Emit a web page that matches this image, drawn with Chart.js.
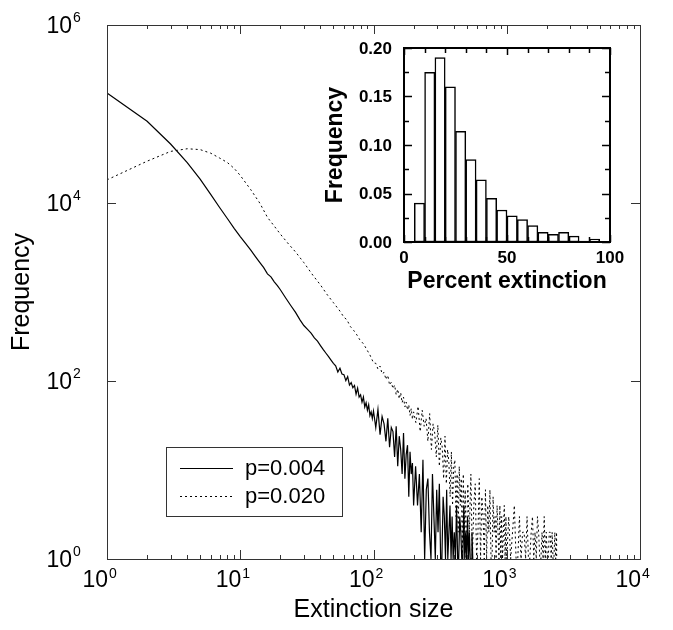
<!DOCTYPE html>
<html>
<head>
<meta charset="utf-8">
<script src="https://cdn.jsdelivr.net/npm/chart.js@4.4.1/dist/chart.umd.min.js"></script>
<style>
  body { margin: 0; background: #fff; }
  #wrap { position: relative; width: 673px; height: 630px; }
  #main { position: absolute; left: 0; top: 0; }
  #inset { position: absolute; left: 320px; top: 40px; }
</style>
</head>
<body>
<div id="wrap">
  <canvas id="main" width="673" height="630"></canvas>
  <canvas id="inset" width="325" height="260"></canvas>
</div>
<script>
// values
const seriesLabels = ['p=0.004', 'p=0.020'];

const sizesA = [1, 2, 3, 4, 5, 6, 7, 8, 9, 10, 11, 12, 13, 14, 15, 16, 17, 18, 19, 20,
  22, 24, 26, 28, 30, 32, 34, 36, 38, 40, 42, 44, 46, 48, 50,
  52, 54, 56, 58, 60, 62, 64, 66, 68, 70, 72, 74, 76, 78, 80, 82, 84, 86, 88, 90, 92, 94, 96, 98, 100,
  104, 108, 112, 116, 120, 124, 128, 132, 136, 140, 144, 148, 152, 156, 160, 164, 168, 172, 176, 180, 184, 188, 192, 196, 200,
  207, 214, 221, 228, 235, 242, 249, 256, 263, 270, 277, 284, 291, 298, 305, 312, 319, 326, 333, 340, 347, 354, 361, 368, 375, 382, 389, 396,
  404, 412, 420, 428, 436, 444, 452, 460, 468, 476, 484, 492, 500, 508, 516, 524, 532, 540, 548, 556];
const countsA = [172000, 83000, 46000, 28500, 18500, 12500, 8900, 6700, 5200, 4200, 3500, 2950, 2500, 2150, 1880, 1600, 1480, 1300, 1180, 1060,
  850, 700, 590, 490, 420, 380, 345, 305, 280, 250, 225, 205, 188, 172, 158,
  148, 126, 139, 120, 118, 101, 112, 90, 96, 84, 89, 71, 83, 66, 70, 58, 66, 51, 57, 47, 54, 41, 45, 38, 46,
  30, 48, 25, 40, 33, 21, 38, 18, 30, 27, 14, 31, 11, 24, 17, 9, 26, 8, 15, 19, 5, 16, 9, 12, 4,
  11, 4, 9, 2, 13, 1, 6, 8, 2, 1, 9, 3, 1, 6, 2, 7, 1, 1, 5, 3, 1, 6, 1, 2, 4, 1, 3, 1,
  2, 1, 4, 1, 1, 3, 2, 1, 1, 4, 1, 2, 1, 3, 1, 2, 1, 1, 2, 1];

const sizesB = [1, 2, 3, 4, 5, 6, 7, 8, 9, 10, 12, 14, 16, 18, 20, 23, 26, 30, 35, 40,
  45, 50, 56, 60, 63, 67, 71, 75, 79, 84, 89, 94, 100,
  104, 108, 112, 116, 120, 124, 128, 132, 136, 140, 144, 148, 152, 156, 160, 164, 168, 172, 176, 180, 184, 188, 192, 196, 200,
  208, 216, 224, 232, 240, 248, 256, 264, 272, 280, 288, 296, 304, 312, 320, 328, 336, 344, 352, 360,
  368, 376, 384, 392, 400, 408, 416, 424, 432, 440, 448, 456, 464, 472, 480, 488, 496,
  510, 524, 538, 552, 566, 580, 594, 608, 622, 636, 650, 664, 678, 692, 706, 720, 734, 748, 762, 776,
  790, 804, 818, 832, 846, 860, 874, 888, 902, 916, 930, 944, 958, 972, 986, 1000,
  1035, 1070, 1105, 1140, 1175, 1210, 1245, 1280, 1315, 1350, 1385, 1420, 1455, 1490, 1525, 1560, 1595, 1630, 1665, 1700,
  1735, 1770, 1805, 1840, 1875, 1910, 1945, 1980, 2015, 2050, 2085, 2120, 2155, 2190, 2225, 2260, 2295, 2330, 2365, 2370];
const countsB = [18200, 29500, 38000, 40700, 39800, 36300, 32000, 28500, 24500, 20400, 14100, 10000, 6900, 5500, 4470, 3470, 2820, 2140, 1550, 1200,
  930, 760, 610, 520, 490, 410, 370, 330, 290, 262, 226, 196, 160,
  158, 136, 147, 120, 125, 104, 116, 90, 97, 82, 90, 70, 81, 63, 74, 57, 66, 51, 58, 47, 54, 41, 49, 37, 45,
  34, 52, 27, 47, 31, 38, 21, 43, 17, 33, 26, 14, 32, 11, 23, 18, 8, 24, 7, 17,
  12, 5, 16, 4, 11, 13, 3, 9, 2, 11, 4, 8, 1, 9, 2, 6, 1,
  7, 2, 9, 1, 4, 7, 1, 2, 8, 1, 5, 3, 1, 6, 1, 4, 2, 6, 1, 1,
  5, 2, 3, 1, 4, 2, 1, 4, 1, 3, 1, 2, 4, 1, 3, 1,
  3, 1, 2, 4, 1, 1, 3, 1, 2, 2, 1, 3, 1, 1, 2, 3, 1, 2, 1, 3,
  2, 1, 1, 2, 1, 3, 1, 2, 1, 1, 2, 2, 1, 2, 1, 1, 2, 1, 2, 1];

// inset histogram (5% bins)
const binCentres = [7.5, 12.5, 17.5, 22.5, 27.5, 32.5, 37.5, 42.5, 47.5, 52.5, 57.5, 62.5, 67.5, 72.5, 77.5, 82.5, 87.5, 92.5];
const binFreq = [0.040, 0.175, 0.190, 0.160, 0.114, 0.085, 0.064, 0.045, 0.033, 0.027, 0.023, 0.017, 0.010, 0.008, 0.010, 0.006, 0.001, 0.003];

// tick labels
const xExponents = [0, 1, 2, 3, 4];
const yExponents = [0, 2, 4, 6];
const histXTicks = [0, 50, 100];
const histYTicks = [0, 0.05, 0.10, 0.15, 0.20];

const FONT = '"Liberation Sans", Arial, Helvetica, sans-serif';

function toPoints(xs, ys) {
  return xs.map((x, i) => ({ x: x, y: ys[i] }));
}

function line(ctx, x1, y1, x2, y2) {
  ctx.beginPath();
  ctx.moveTo(x1, y1);
  ctx.lineTo(x2, y2);
  ctx.stroke();
}

// frame, inward ticks, power-of-ten labels, titles and legend
const mainAxes = {
  id: 'mainAxes',
  afterDraw(chart) {
    const ctx = chart.ctx;
    const a = chart.chartArea;
    const xs = chart.scales.x, ys = chart.scales.y;
    ctx.save();
    ctx.strokeStyle = '#333';
    ctx.lineWidth = 1;
    ctx.strokeRect(a.left + 0.5, a.top + 0.5, a.right - a.left, a.bottom - a.top);

    xExponents.forEach(e => {
      const base = Math.pow(10, e);
      const px = Math.round(xs.getPixelForValue(base)) + 0.5;
      line(ctx, px, a.bottom, px, a.bottom - 9);
      line(ctx, px, a.top, px, a.top + 9);
      if (e < 4) {
        for (let m = 2; m <= 9; m++) {
          const mx = Math.round(xs.getPixelForValue(m * base)) + 0.5;
          line(ctx, mx, a.bottom, mx, a.bottom - 4);
          line(ctx, mx, a.top, mx, a.top + 4);
        }
      }
    });
    yExponents.forEach(e => {
      const py = Math.round(ys.getPixelForValue(Math.pow(10, e))) + 0.5;
      line(ctx, a.left, py, a.left + 9, py);
      line(ctx, a.right, py, a.right - 9, py);
    });

    ctx.fillStyle = '#000';
    // x tick labels
    xExponents.forEach(e => {
      const px = xs.getPixelForValue(Math.pow(10, e));
      ctx.font = '23px ' + FONT;
      ctx.textAlign = 'right';
      ctx.textBaseline = 'alphabetic';
      ctx.fillText('10', px + 1, a.bottom + 28);
      ctx.font = '14px ' + FONT;
      ctx.textAlign = 'left';
      ctx.fillText(String(e), px + 2, a.bottom + 19);
    });
    // y tick labels
    yExponents.forEach(e => {
      const py = ys.getPixelForValue(Math.pow(10, e));
      ctx.font = '23px ' + FONT;
      ctx.textAlign = 'right';
      ctx.textBaseline = 'alphabetic';
      ctx.fillText('10', a.left - 35, py + 8);
      ctx.font = '14px ' + FONT;
      ctx.textAlign = 'left';
      ctx.fillText(String(e), a.left - 34, py - 3);
    });

    // axis titles
    ctx.font = '25px ' + FONT;
    ctx.textAlign = 'center';
    ctx.fillText('Extinction size', (a.left + a.right) / 2, a.bottom + 58);
    ctx.save();
    ctx.translate(a.left - 78, (a.top + a.bottom) / 2);
    ctx.rotate(-Math.PI / 2);
    ctx.fillText('Frequency', 0, 0);
    ctx.restore();

    // legend box
    const lx = 166, ly = 447, lw = 176, lh = 69;
    ctx.fillStyle = '#fff';
    ctx.fillRect(lx, ly, lw, lh);
    ctx.strokeStyle = '#333';
    ctx.strokeRect(lx + 0.5, ly + 0.5, lw, lh);
    chart.data.datasets.forEach((ds, i) => {
      const y = ly + 21 + i * 28;
      ctx.strokeStyle = '#000';
      ctx.lineWidth = ds.borderWidth;
      ctx.setLineDash(ds.borderDash || []);
      line(ctx, lx + 14, y + 0.5, lx + 67, y + 0.5);
      ctx.setLineDash([]);
      ctx.fillStyle = '#000';
      ctx.font = '22px ' + FONT;
      ctx.textAlign = 'left';
      ctx.textBaseline = 'middle';
      ctx.fillText(ds.label, lx + 79, y + 1);
    });
    ctx.restore();
  }
};

new Chart(document.getElementById('main'), {
  type: 'scatter',
  data: {
    datasets: [
      { label: seriesLabels[0], data: toPoints(sizesA, countsA), showLine: true,
        borderColor: '#000', borderWidth: 1.2, pointRadius: 0, borderDash: [] },
      { label: seriesLabels[1], data: toPoints(sizesB, countsB), showLine: true,
        borderColor: '#000', borderWidth: 1, pointRadius: 0, borderDash: [2, 3] }
    ]
  },
  options: {
    responsive: false,
    animation: false,
    events: [],
    layout: { padding: { left: 107, top: 25, right: 33, bottom: 71 } },
    plugins: { legend: { display: false }, tooltip: { enabled: false } },
    scales: {
      x: { type: 'logarithmic', min: 1, max: 10000, display: false },
      y: { type: 'logarithmic', min: 1, max: 1000000, display: false }
    }
  },
  plugins: [mainAxes]
});

const insetAxes = {
  id: 'insetAxes',
  afterDraw(chart) {
    const ctx = chart.ctx;
    const a = chart.chartArea;
    const xs = chart.scales.x, ys = chart.scales.y;
    ctx.save();
    ctx.strokeStyle = '#000';
    ctx.lineWidth = 1.5;
    for (let v = 0; v <= 100; v += 10) {
      const px = Math.round(xs.getPixelForValue(v)) + 0.5;
      const len = v % 50 === 0 ? 7 : 5;
      line(ctx, px, a.bottom, px, a.bottom - len);
      line(ctx, px, a.top, px, a.top + len);
    }
    for (let k = 0; k <= 8; k++) {
      const py = Math.round(ys.getPixelForValue(k * 0.025)) + 0.5;
      const len = k % 2 === 0 ? 8 : 5;
      line(ctx, a.left, py, a.left + len, py);
      line(ctx, a.right, py, a.right - len, py);
    }
    ctx.lineWidth = 2;
    ctx.strokeRect(a.left, a.top, a.right - a.left, a.bottom - a.top);

    ctx.fillStyle = '#000';
    ctx.font = 'bold 17px ' + FONT;
    ctx.textAlign = 'right';
    ctx.textBaseline = 'middle';
    histYTicks.forEach(v => {
      ctx.fillText(v.toFixed(2), a.left - 12, ys.getPixelForValue(v) + 1);
    });
    ctx.textAlign = 'center';
    ctx.textBaseline = 'top';
    histXTicks.forEach(v => {
      ctx.fillText(String(v), xs.getPixelForValue(v), a.bottom + 8);
    });

    ctx.font = 'bold 23px ' + FONT;
    ctx.textBaseline = 'alphabetic';
    ctx.fillText('Percent extinction', (a.left + a.right) / 2, a.bottom + 46);
    ctx.save();
    ctx.translate(a.left - 62, (a.top + a.bottom) / 2);
    ctx.rotate(-Math.PI / 2);
    ctx.fillText('Frequency', 0, 0);
    ctx.restore();
    ctx.restore();
  }
};

new Chart(document.getElementById('inset'), {
  type: 'bar',
  data: {
    datasets: [{
      data: toPoints(binCentres, binFreq),
      backgroundColor: '#fff',
      borderColor: '#000',
      borderWidth: 1.5,
      borderSkipped: false,
      barPercentage: 1,
      categoryPercentage: 1
    }]
  },
  options: {
    responsive: false,
    animation: false,
    events: [],
    layout: { padding: { left: 84, top: 8, right: 35, bottom: 58 } },
    plugins: { legend: { display: false }, tooltip: { enabled: false } },
    scales: {
      x: { type: 'linear', min: 0, max: 100, offset: false, display: false, ticks: { stepSize: 10 } },
      y: { type: 'linear', min: 0, max: 0.2, display: false }
    }
  },
  plugins: [insetAxes]
});
</script>
</body>
</html>
